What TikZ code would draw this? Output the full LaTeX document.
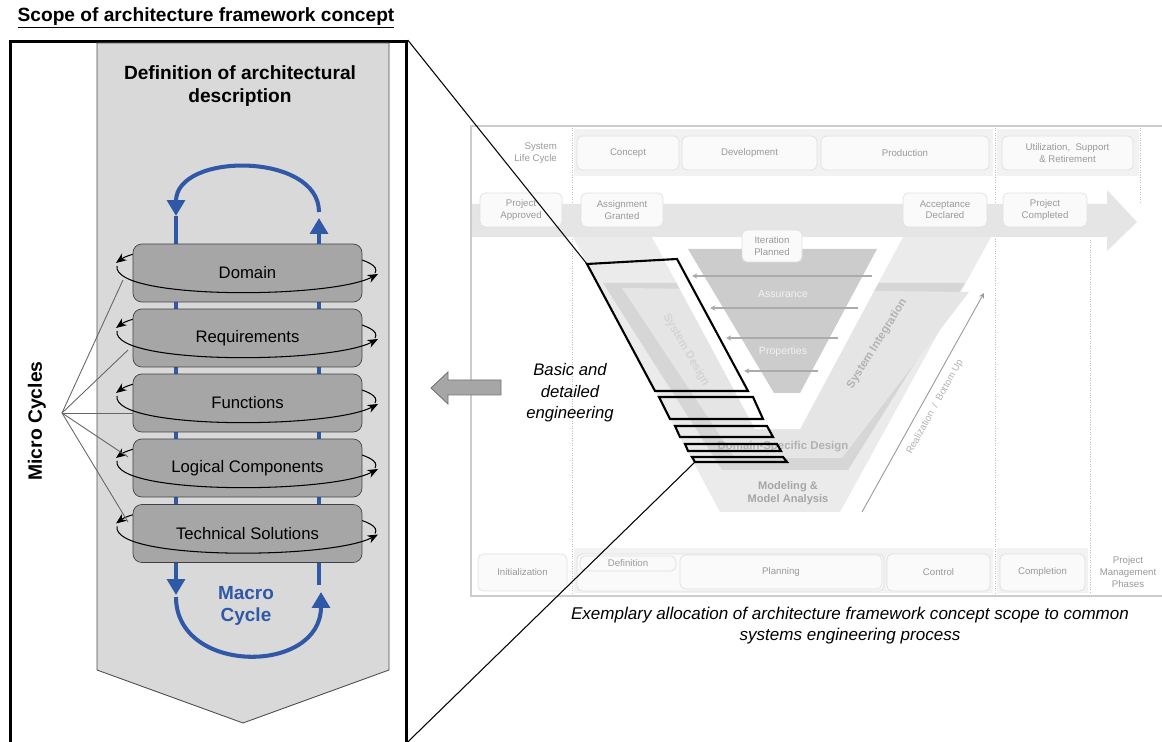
\documentclass[tikz,border=0pt]{standalone}
\usepackage{fontspec}
\setmainfont{Liberation Sans}
\usetikzlibrary{arrows.meta}

\definecolor{macroblue}{RGB}{47,88,166}
\definecolor{chevgray}{RGB}{217,217,217}
\definecolor{stagegray}{RGB}{166,166,166}

\begin{document}
\begin{tikzpicture}[x=0.02cm, y=-0.02cm,
  stagebox/.style={draw=black!75, fill=stagegray, rounded corners=5pt, minimum width=4.58cm, minimum height=1.16cm, font=\fontsize{9.5}{11}\selectfont},
  macro/.style={draw=macroblue, line width=2.3pt, -{Triangle[length=9pt,width=10pt]}},
  microloop/.style={line width=0.6pt, -{Stealth[length=6pt,width=4.8pt]}},
  fanline/.style={draw=black!60, line width=0.5pt},
  phasebox/.style={draw=black!12, fill=white!98!black, rounded corners=3pt, text=black!40, font=\fontsize{5.5}{6.5}\selectfont, align=center, inner sep=1pt},
  vlabel/.style={text=black!30, font=\fontsize{6.5}{7.5}\selectfont\bfseries, align=center},
  vdiv/.style={draw=black!25, densely dotted, line width=0.4pt},
  focus/.style={draw=black, line width=1.2pt},
]
\useasboundingbox (0,0) rectangle (1162,742);

% Title and scope frame
\node[font=\fontsize{10.9}{13}\selectfont\bfseries] (title) at (206,18) {\underline{Scope of architecture framework concept}};
\node[draw, line width=1.6pt, minimum width=7.92cm, minimum height=14.2cm, anchor=north west, inner sep=0pt] (scope) at (9,40) {};

% Chevron
\draw[fill=chevgray, draw=black!70, line width=0.5pt] (97,43) -- (389,43) -- (389,670) -- (243,723) -- (97,670) -- cycle;
\node[font=\fontsize{10.9}{13}\selectfont\bfseries, align=center] (defn) at (240,86) {Definition of architectural\\description};

% Micro cycles (back half)
\foreach \yy in {269,334,399,464,529.5}
  \draw[microloop] (375,\yy+4) .. controls (392,\yy-24) and (150,\yy-31) .. (116,\yy-6);

% Macro cycle lines behind boxes
\coordinate (mtr) at (319,212);
\coordinate (mtl) at (176,216);
\coordinate (mbl) at (176,597);
\coordinate (mbr) at (321,592);
\draw[macro, -] (176,216) -- (176,560);
\draw[macro, -] (319,560) -- (319,235);

% Design stages
\node[stagebox] (domain) at (247.5,273) {Domain};
\node[stagebox] (reqs) at (247.5,338) {Requirements};
\node[stagebox] (funcs) at (247.5,403) {Functions};
\node[stagebox] (logic) at (247.5,468) {Logical Components};
\node[stagebox] (techsol) at (247.5,533.5) {Technical Solutions};

% Micro cycles (front half)
\foreach \yy in {269,334,399,464,529.5}
  \draw[microloop] (117,\yy-3) .. controls (112,\yy+31) and (330,\yy+30) .. (378,\yy+5);

% Macro cycle arrows
\draw[macro] (techsol.south -| mtl) -- (176,595);
\draw[macro, -] (techsol.south -| mtr) -- (319,585);
\draw[macro] (domain.north -| mtr) -- (319,218);
\draw[macro] (mtr) .. controls (319,152) and (176,152) .. (mtl);
\draw[macro] (mbl) .. controls (176,675) and (321,675) .. (mbr);
\node[text=macroblue, font=\fontsize{10.8}{13}\selectfont\bfseries, align=center] (macrolbl) at (246,606) {Macro\\Cycle};

% Micro cycles label and fan
\node[rotate=90, font=\fontsize{11}{13}\selectfont\bfseries] (micro) at (37,421) {Micro Cycles};
\coordinate (mfan) at (62,413);
\coordinate (mf1) at (123,280);
\coordinate (mf2) at (128,350);
\coordinate (mf3) at (133,413);
\coordinate (mf4) at (128,457);
\coordinate (mf5) at (128,522);
\foreach \k in {1,...,5}
  \draw[fanline] (mfan) -- (mf\k);

% ---------------- V-model ----------------
\draw[black!20, fill=white, line width=0.6pt] (471,126) rectangle (1175,596);
\fill[black!5] (574,129) rectangle (993,176);
\fill[black!5] (997,129) rectangle (1139,176);
\fill[black!5] (574,548) rectangle (993,593);
\fill[black!5] (997,548) rectangle (1088,593);
\draw[vdiv] (572,128) -- (572,594);
\draw[vdiv] (995,128) -- (995,594);
\draw[vdiv] (1140,128) -- (1140,202);
\draw[vdiv] (1090,240) -- (1090,594);

% life cycle phases
\node[text=black!40, font=\fontsize{5.5}{6.5}\selectfont, align=right, anchor=east] (slc) at (563,153) {System\\Life Cycle};
\node[phasebox, minimum width=2.04cm, minimum height=0.68cm] (concept) at (628,153) {Concept};
\node[phasebox, minimum width=2.7cm, minimum height=0.68cm] (devel) at (749.5,153) {Development};
\node[phasebox, minimum width=3.36cm, minimum height=0.68cm] (product) at (905,153) {Production};
\node[phasebox, minimum width=2.62cm, minimum height=0.68cm] (utilize) at (1067.5,153) {Utilization,\ \ Support\\\& Retirement};

% V shape
\fill[black!8] (573,237) -- (720,512) -- (840,512) -- (991,237) -- cycle;
\fill[black!16] (603,283) -- (722,470) -- (848,470) -- (965,283) -- cycle;
\fill[black!10] (622,288) -- (735,458) -- (842,458) -- (969,292) -- cycle;
\fill[white] (652,237) -- (755,429) -- (800,429) -- (903,237) -- cycle;

% milestone arrow
\fill[black!10] (472,204) -- (1107,204) -- (1107,190) -- (1137,222) -- (1107,251) -- (1107,237) -- (472,237) -- cycle;
\node[phasebox, minimum width=1.64cm, minimum height=0.68cm] (papproved) at (521,210) {Project\\Approved};
\node[phasebox, minimum width=1.64cm, minimum height=0.68cm] (agranted) at (622,210) {Assignment\\Granted};
\node[phasebox, minimum width=1.68cm, minimum height=0.68cm] (adeclared) at (945,210) {Acceptance\\Declared};
\node[phasebox, minimum width=1.68cm, minimum height=0.68cm] (pcompleted) at (1045,210) {Project\\Completed};

% assurance funnel
\fill[black!20] (688,249) -- (877,249) -- (800,393) -- (774,393) -- cycle;
\node[phasebox, minimum width=1.2cm, minimum height=0.64cm] (iplanned) at (772,246) {Iteration\\Planned};
\foreach \ya/\xa/\xb in {276/872/692, 308/858/710, 338/838/726, 371/818/744}
  \draw[black!33, line width=0.6pt, -{Stealth[length=3pt,width=3pt]}] (\xa,\ya) -- (\xb,\ya);
\node[text=white!95!black, font=\fontsize{6}{7}\selectfont] (assur) at (783,294) {Assurance};
\node[text=white!95!black, font=\fontsize{6}{7}\selectfont] (props) at (783,352) {Properties};

% V labels
\node[vlabel, text=black!17, rotate=-60] (sysdes) at (686,350) {System Design};
\node[vlabel, rotate=58] (sysint) at (877,344) {System Integration};
\node[vlabel] (dsd) at (783,447) {Domain-Specific Design};
\node[vlabel, text=black!35, font=\fontsize{6.3}{7.4}\selectfont\bfseries] (model) at (788,493) {Modeling \&\\Model Analysis};
\coordinate (rbot) at (862,512);
\coordinate (rtop) at (984,293);
\draw[black!40, line width=0.5pt, -{Stealth[length=3pt,width=3pt]}] (rbot) -- (rtop);
\node[text=black!30, font=\fontsize{5.5}{6.5}\selectfont, rotate=61] (realize) at (935,407) {Realization\ \ /\ \ Bottom Up};

% project management phases
\node[phasebox, minimum width=1.78cm, minimum height=0.74cm] (init) at (522.5,572.5) {Initialization};
\node[phasebox, minimum width=6.14cm, minimum height=0.74cm] (plangrp) at (730.5,572.5) {};
\node[phasebox, minimum width=4.04cm, minimum height=0.68cm] (planning) at (781,572) {Planning};
\node[phasebox, minimum width=1.92cm, minimum height=0.3cm] (defin) at (628,563.5) {Definition};
\node[phasebox, minimum width=2.06cm, minimum height=0.74cm] (control) at (938.5,572.5) {Control};
\node[phasebox, minimum width=1.7cm, minimum height=0.74cm] (complet) at (1042.5,572.5) {Completion};
\node[text=black!40, font=\fontsize{5.5}{7}\selectfont, align=center] (pmp) at (1128,572) {Project\\Management\\Phases};

% scope allocation
\coordinate (f1a) at (587,264);
\coordinate (f5d) at (695,462);
\draw[focus] (f1a) -- (677,259) -- (748,391) -- (655,391) -- cycle;
\draw[focus] (659,397) -- (753,397) -- (763,419) -- (670,419) -- cycle;
\draw[focus] (675,426) -- (767,426) -- (773,437) -- (680,437) -- cycle;
\draw[focus] (685,444) -- (777,444) -- (781,451) -- (688,451) -- cycle;
\draw[focus] (692,457) -- (783,457) -- (787,462) -- (f5d) -- cycle;
\coordinate (lowtie) at (scope.east |- 0,742);
\draw[line width=0.6pt] (scope.north east) -- (f1a);
\draw[line width=0.6pt] (lowtie) -- (f5d);

% engineering arrow and captions
\draw[fill=stagegray, draw=black!55, line width=0.5pt] (431,388) -- (448,372) -- (448,380) -- (501,380) -- (501,395) -- (448,395) -- (448,404) -- cycle;
\node[font=\fontsize{9.5}{12.2}\selectfont\itshape, align=center] (basic) at (570,393) {Basic and\\detailed\\engineering};
\node[font=\fontsize{9.7}{12}\selectfont\itshape, align=center] (caption) at (850,626) {Exemplary allocation of architecture framework concept scope to common\\systems engineering process};

\end{tikzpicture}
\end{document}
